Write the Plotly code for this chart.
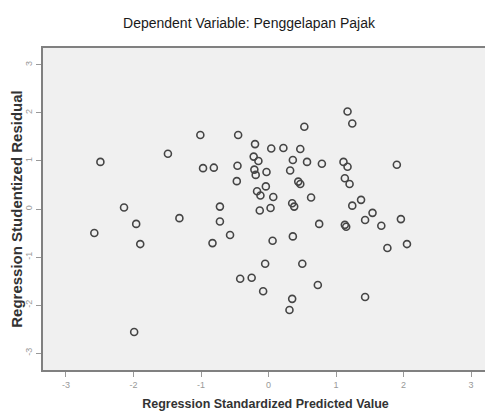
import plotly.graph_objects as go

pred_x = [-2.49, -2.58, -2.14, -1.96, -1.90, -1.99, -1.49, -1.32, -1.01, -0.97,
          -0.81, -0.72, -0.72, -0.83, -0.57, -0.45, -0.46, -0.47, -0.42, -0.25,
          -0.20, -0.22, -0.15, -0.21, -0.19, -0.03, -0.04, -0.17, -0.12, -0.13,
          0.03, 0.07, 0.04, 0.22, 0.47, 0.53, 0.36, 0.57, 0.79, 0.32,
          0.44, 0.47, 0.35, 0.38, 0.63, 1.17, 1.24, 1.11, 1.17, 1.13,
          1.20, 1.90, 1.24, 1.37, 1.54, 1.43, 1.67, 1.96, 1.76, 2.05,
          1.13, 1.15, 0.75, 0.06, 0.36, -0.05, 0.50, -0.08, 0.73, 0.35,
          0.31, 1.43]
resid_y = [0.98, -0.50, 0.03, -0.31, -0.73, -2.56, 1.15, -0.19, 1.54, 0.85,
           0.86, 0.05, -0.26, -0.71, -0.54, 1.54, 0.90, 0.58, -1.45, -1.43,
           1.35, 1.09, 1.00, 0.82, 0.71, 0.77, 0.47, 0.37, 0.28, -0.03,
           0.02, 0.25, 1.26, 1.27, 1.25, 1.71, 1.02, 0.98, 0.94, 0.80,
           0.57, 0.52, 0.12, 0.05, 0.24, 2.03, 1.78, 0.98, 0.88, 0.64,
           0.52, 0.92, 0.07, 0.19, -0.08, -0.23, -0.35, -0.21, -0.81, -0.73,
           -0.33, -0.37, -0.31, -0.66, -0.57, -1.14, -1.14, -1.71, -1.58, -1.87,
           -2.10, -1.83]

tick_vals = [-3, -2, -1, 0, 1, 2, 3]
tick_text = ["-3", "-2", "-1", "0", "1", "2", "3"]

W, H = 485, 412

fig = go.Figure()
fig.add_trace(go.Scatter(
    x=pred_x, y=resid_y, mode="markers",
    marker=dict(symbol="circle-open", size=7, color="#454545", line=dict(width=1.6)),
    showlegend=False, hoverinfo="skip"))

fig.update_layout(
    width=W, height=H,
    margin=dict(l=32, r=3, t=40, b=50),
    paper_bgcolor="white", plot_bgcolor="#f0f0f0",
    title=dict(text="Dependent Variable: Penggelapan Pajak", x=(249 - 8) / W, xanchor="center",
               y=1 - 15 / H, yanchor="middle",
               font=dict(family="Liberation Sans", size=14, color="#1a1a1a")),
    font=dict(family="Liberation Sans"),
)
fig.update_xaxes(
    range=[-3.34, 3.25], tickvals=tick_vals, ticktext=tick_text,
    showgrid=False, zeroline=False, showline=True, mirror=True,
    linecolor="#808080", linewidth=2, ticks="outside", ticklen=5, tickcolor="#999",
    tickfont=dict(size=9, color="#999"),
    title=dict(text="<b>Regression Standardized Predicted Value</b>", standoff=10,
               font=dict(size=12.5, color="#333")))
fig.update_yaxes(
    range=[-3.35, 3.35], tickvals=tick_vals, ticktext=tick_text, tickangle=-90,
    showgrid=False, zeroline=False, showline=True, mirror=True,
    linecolor="#808080", linewidth=2, ticks="outside", ticklen=5, tickcolor="#999",
    tickfont=dict(size=9, color="#999"),
    title=dict(text="<b>Regression Studentized Residual</b>", standoff=3,
               font=dict(size=15, color="#333")))

fig.write_html("out.html")
